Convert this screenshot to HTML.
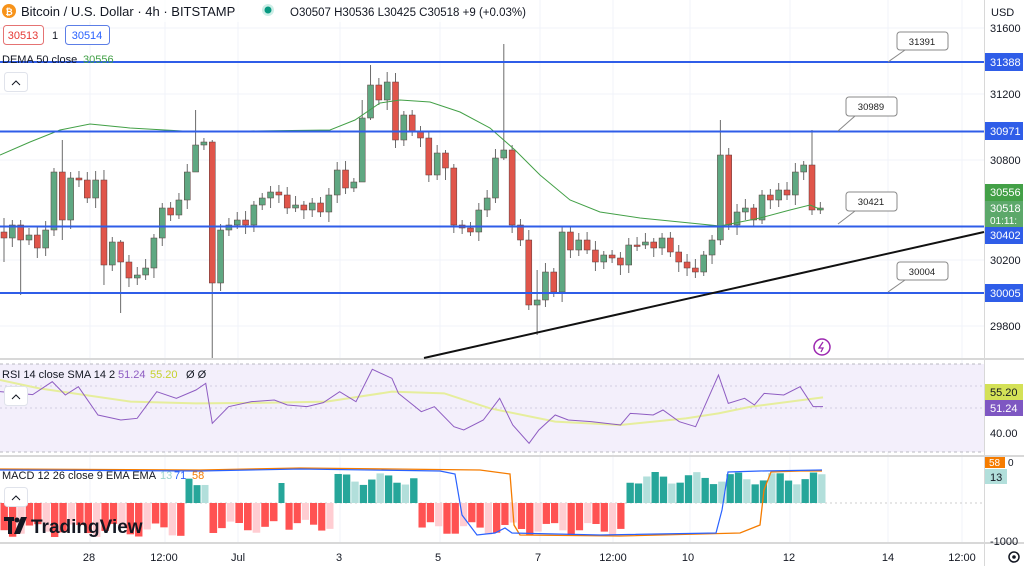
<!DOCTYPE html>
<html><head><meta charset="utf-8"><style>
body{margin:0;width:1024px;height:566px;overflow:hidden;background:#fff;font-family:"Liberation Sans",sans-serif;}
svg{position:absolute;left:0;top:0}
text{font-family:"Liberation Sans",sans-serif}
</style></head><body>
<svg id="s" width="1024" height="566" xmlns="http://www.w3.org/2000/svg">
<g id="grid" stroke="#f0f3fa" stroke-width="1"></g>
<rect x="0" y="364" width="984" height="88" fill="#f3effb"/>
<line x1="0" y1="364" x2="984" y2="364" stroke="#b8b8c0" stroke-dasharray="3,3"/>
<line x1="0" y1="452" x2="984" y2="452" stroke="#b8b8c0" stroke-dasharray="3,3"/>
<line x1="0" y1="386" x2="984" y2="386" stroke="#d0cce0" stroke-dasharray="2,3"/>
<line x1="0" y1="408" x2="984" y2="408" stroke="#d0cce0" stroke-dasharray="2,3"/>
<line x1="0" y1="503" x2="984" y2="503" stroke="#ccc" stroke-dasharray="2,3"/>
<line x1="0" y1="359" x2="1024" y2="359" stroke="#d8d8d8" stroke-width="2"/>
<line x1="0" y1="456" x2="1024" y2="456" stroke="#d8d8d8" stroke-width="2"/>
<line x1="0" y1="543" x2="1024" y2="543" stroke="#d8d8d8" stroke-width="2"/>
<line x1="984.5" y1="0" x2="984.5" y2="566" stroke="#d8d8d8"/>
<g id="bars"></g>
<g id="candles"></g>
<path id="dema" fill="none" stroke="#43a047" stroke-width="1"/>
<path id="rsiS" fill="none" stroke="#e6ee9c" stroke-width="2"/>
<path id="rsi" fill="none" stroke="#8e5cc2" stroke-width="1"/>
<path id="mO" fill="none" stroke="#f57c00" stroke-width="1.3"/>
<path id="mB" fill="none" stroke="#2962ff" stroke-width="1.2"/>
<g stroke="#2f5de8" stroke-width="2">
<line x1="0" y1="62" x2="984" y2="62"/><line x1="0" y1="131.5" x2="984" y2="131.5"/>
<line x1="0" y1="226.5" x2="984" y2="226.5"/><line x1="0" y1="293" x2="984" y2="293"/>
</g>
<line x1="424" y1="358" x2="984" y2="232" stroke="#111" stroke-width="2"/>
<g font-size="9.5" fill="#222" text-anchor="middle">
<g stroke="#888" fill="#fff"><line x1="888" y1="62" x2="905" y2="50"/><rect x="897" y="32" width="51" height="18" rx="3"/>
<line x1="838" y1="131" x2="855" y2="116"/><rect x="846" y="97" width="51" height="19" rx="3"/>
<line x1="838" y1="224" x2="855" y2="211"/><rect x="846" y="192" width="51" height="19" rx="3"/>
<line x1="888" y1="292" x2="905" y2="280"/><rect x="897" y="262" width="51" height="18" rx="3"/></g>
<text x="922" y="45">31391</text><text x="871" y="110">30989</text><text x="871" y="205">30421</text><text x="922" y="275">30004</text>
</g>
<circle cx="822" cy="347" r="8" fill="none" stroke="#9c27b0" stroke-width="1.5"/>
<path d="M823 342 L819 348 L823 348 L821 352" stroke="#9c27b0" fill="none" stroke-width="1.3"/>
<!-- header -->
<rect x="0" y="0" width="480" height="22" fill="#fff" opacity="0.7"/>
<circle cx="9" cy="11" r="7" fill="#f7931a"/><text x="9" y="15" font-size="9" fill="#fff" text-anchor="middle" font-weight="bold">₿</text>
<text x="21" y="16" font-size="13" fill="#131722">Bitcoin / U.S. Dollar · 4h · BITSTAMP</text>
<circle cx="268" cy="10" r="6" fill="#cdeee7"/><circle cx="268" cy="10" r="3.5" fill="#089981"/>
<text x="290" y="16" font-size="11.5" fill="#131722">O30507 H30536 L30425 C30518 +9 (+0.03%)</text>
<rect x="3.5" y="25.5" width="40" height="19" rx="3" fill="#fff" stroke="#e57373"/><text x="23" y="39" font-size="11" fill="#e53935" text-anchor="middle">30513</text>
<text x="52" y="39" font-size="11" fill="#131722">1</text>
<rect x="65.5" y="25.5" width="44" height="19" rx="3" fill="#fff" stroke="#5c7ee6"/><text x="87" y="39" font-size="11" fill="#2962ff" text-anchor="middle">30514</text>
<text x="2" y="63" font-size="11" fill="#131722">DEMA 50 close</text><text x="83" y="63" font-size="11" fill="#43a047">30556</text>
<rect x="4.5" y="72.5" width="23" height="19" rx="3" fill="#fff" stroke="#e0e3eb"/><path d="M12 85 L16 81 L20 85" stroke="#131722" fill="none"/>
<text x="2" y="378" font-size="11" fill="#131722">RSI 14 close SMA 14 2</text><text x="118" y="378" font-size="11" fill="#8e5cc2">51.24</text><text x="150" y="378" font-size="11" fill="#c5d12d">55.20</text><text x="186" y="378" font-size="11" fill="#131722">Ø Ø</text>
<rect x="4.5" y="386.5" width="23" height="19" rx="3" fill="#fff" stroke="#e0e3eb"/><path d="M12 399 L16 395 L20 399" stroke="#131722" fill="none"/>
<text x="2" y="479" font-size="11" fill="#131722">MACD 12 26 close 9 EMA EMA</text><text x="160" y="479" font-size="11" fill="#9fd5cf">13</text><text x="174" y="479" font-size="11" fill="#2962ff">71</text><text x="192" y="479" font-size="11" fill="#f57c00">58</text>
<rect x="4.5" y="487.5" width="23" height="19" rx="3" fill="#fff" stroke="#e0e3eb"/><path d="M12 500 L16 496 L20 500" stroke="#131722" fill="none"/>
<g fill="#131722"><rect x="4" y="517" width="10" height="4"/><rect x="8" y="517" width="4" height="17"/><circle cx="17" cy="520" r="2.5"/><path d="M21 517 L27 517 L20 534 L14 534 Z"/></g>
<text x="31" y="533" font-size="19" font-weight="bold" fill="#131722">TradingView</text>
<!-- axis -->
<g font-size="11" fill="#131722">
<text x="991" y="16">USD</text><text x="990" y="32">31600</text><text x="990" y="98">31200</text><text x="990" y="164">30800</text><text x="990" y="264">30200</text><text x="990" y="330">29800</text><text x="990" y="437">40.00</text><text x="990" y="545">-1000</text>
</g>
<g font-size="11" fill="#fff">
<rect x="985" y="53" width="38" height="18" fill="#2f5de8"/><text x="990" y="66">31388</text>
<rect x="985" y="122" width="38" height="18" fill="#2f5de8"/><text x="990" y="135">30971</text>
<rect x="985" y="184" width="38" height="17" fill="#43a047"/><text x="990" y="196">30556</text>
<rect x="985" y="201" width="38" height="26" fill="#5ca86a"/><text x="990" y="212">30518</text><text x="990" y="224" font-size="10">01:11:</text>
<rect x="985" y="227" width="38" height="17" fill="#2f5de8"/><text x="990" y="239">30402</text>
<rect x="985" y="284" width="38" height="18" fill="#2f5de8"/><text x="990" y="297">30005</text>
<rect x="985" y="384" width="38" height="16" fill="#d4e157"/><text x="990" y="396" fill="#131722">55.20</text>
<rect x="985" y="400" width="38" height="16" fill="#7e57c2"/><text x="990" y="412">51.24</text>
<rect x="985" y="457" width="20" height="11" fill="#f57c00"/><text x="989" y="466" font-size="10">58</text><text x="1008" y="466" fill="#131722" font-size="10">0</text>
<rect x="985" y="469" width="22" height="15" fill="#b2dfdb"/><text x="990" y="481" fill="#131722">13</text>
</g>
<g font-size="11" fill="#131722" text-anchor="middle">
<text x="89" y="561">28</text><text x="164" y="561">12:00</text><text x="238" y="561">Jul</text><text x="339" y="561">3</text><text x="438" y="561">5</text><text x="538" y="561">7</text><text x="613" y="561">12:00</text><text x="688" y="561">10</text><text x="789" y="561">12</text><text x="888" y="561">14</text><text x="962" y="561">12:00</text>
</g>
<circle cx="1014" cy="557" r="5" fill="none" stroke="#131722" stroke-width="1.5"/><circle cx="1014" cy="557" r="1.8" fill="#131722"/>
</svg>
<script>
var NS="http://www.w3.org/2000/svg";
function el(p,t,a){var e=document.createElementNS(NS,t);for(var k in a)e.setAttribute(k,a[k]);document.getElementById(p).appendChild(e);return e;}
[90,165,238,340,440,540,613,690,790,888,962].forEach(function(x){el("grid","line",{x1:x,y1:0,x2:x,y2:542});});
[28,94,160,260,326].forEach(function(y){el("grid","line",{x1:0,y1:y,x2:984,y2:y});});
var c=[238,225,240,235,248,230,172,220,178,180,198,180,265,242,262,278,275,268,238,208,215,200,172,145,142,283,230,225,220,225,205,198,192,195,208,205,210,203,212,195,170,188,182,118,85,100,82,140,115,132,138,175,153,168,225,228,232,210,198,158,150,225,240,305,300,272,292,232,250,240,250,262,255,258,265,245,245,242,248,238,252,262,268,272,255,240,155,225,212,208,220,195,200,190,195,172,165,210,208];
var wk={0:[218,262],2:[220,295],7:[140,240],12:[170,285],14:[240,313],23:[110,160],25:[140,358],43:[100,140],44:[65,120],46:[72,110],53:[150,180],60:[44,160],63:[230,310],64:[270,335],86:[120,245],97:[130,215]};
var prev=232;
for(var i=0;i<c.length;i++){var x=4+i*8.33,o=prev,cl=c[i];var up=cl<o;var col=up?"#26a69a":"#ef5350";if(up) col="#5fa882";else col="#e0554a";
var h=Math.min(o,cl)-4-(i*7%6),l=Math.max(o,cl)+4+(i*5%7);if(wk[i]){h=wk[i][0];l=wk[i][1];}
el("candles","line",{x1:x,y1:h,x2:x,y2:l,stroke:"#6b6b6b","stroke-width":1});
var t=Math.min(o,cl),hh=Math.max(1.5,Math.abs(o-cl));
el("candles","rect",{x:x-3,y:t,width:6,height:hh,fill:col,stroke:"#5a3a3a","stroke-width":0.5});prev=cl;}
function path(id,pts){document.getElementById(id).setAttribute("d","M"+pts.map(function(p){return p[0]+" "+p[1]}).join(" L"));}
path("dema",[[0,155],[30,142],[60,130],[90,124],[130,128],[200,132],[250,131],[330,130],[355,120],[380,103],[400,100],[430,102],[460,112],[490,128],[515,150],[540,175],[570,200],[600,212],[640,218],[680,222],[720,226],[760,218],[790,210],[810,205],[822,210]]);
var r=[[0,95],[30,100],[50,104],[80,65],[100,105],[120,80],[150,165],[185,180],[210,175],[240,95],[270,115],[300,90],[315,70],[325,190],[350,140],[385,125],[420,120],[440,135],[470,140],[495,128],[520,95],[545,125],[570,28],[600,55],[610,100],[645,155],[665,140],[695,200],[710,210],[740,180],[765,115],[785,195],[810,250],[825,210],[850,165],[870,180],[905,185],[950,195],[965,160],[1000,165],[1015,150],[1040,185],[1065,200],[1100,45],[1115,130],[1140,115],[1155,135],[1170,100],[1200,105],[1225,80],[1245,140],[1260,140]];
path("rsi",r.map(function(p){return [p[0]/1.531,p[1]/3+360]}));
var s=[[0,60],[60,85],[200,125],[300,130],[420,128],[500,125],[600,95],[680,100],[750,145],[850,185],[950,195],[1050,175],[1100,160],[1150,140],[1260,112]];
path("rsiS",s.map(function(p){return [p[0]/1.531,p[1]/3+360]}));
path("mB",[[0,470],[200,471],[300,469],[440,471],[455,474],[462,515],[477,535],[495,533],[505,528],[512,533],[600,535],[716,533],[722,510],[728,472],[760,471],[822,470]]);
path("mO",[[0,469],[200,470],[300,468],[480,470],[510,474],[514,525],[520,535],[620,536],[740,533],[760,525],[764,490],[771,472],[800,471],[822,471]]);
var seg=[[0,185,-1,34],[185,209,1,-28],[209,278,-1,30],[278,285,1,-20],[285,334,-1,28],[334,418,1,-30],[418,625,-1,32],[626,826,1,-31]];
seg.forEach(function(sg){var n=Math.max(1,Math.round((sg[1]-sg[0])/8.3)),w=(sg[1]-sg[0])/n;
for(var k=0;k<n;k++){var hgt=Math.abs(sg[3])*(0.8+0.2*Math.sin(k*1.3+sg[0]));var dark=(k%3)!=2;
var col=sg[2]>0?(dark?"#26a69a":"#b2dfdb"):(dark?"#ff5252":"#ffcdd2");
var y=sg[2]>0?503-hgt:503;el("bars","rect",{x:sg[0]+k*w+0.5,y:y,width:w-1,height:hgt,fill:col});}});
</script>
</body></html>
